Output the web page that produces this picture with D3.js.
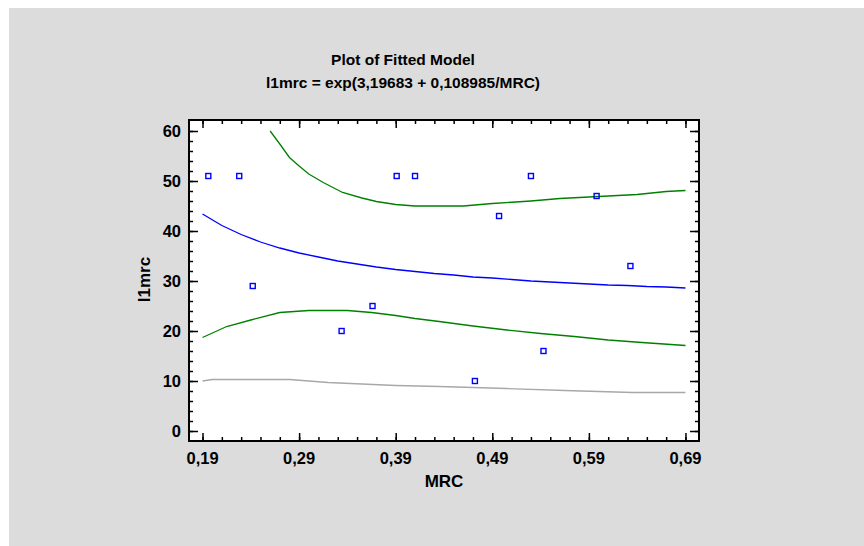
<!DOCTYPE html>
<html>
<head>
<meta charset="utf-8">
<script src="https://cdn.jsdelivr.net/npm/d3@7"></script>
<style>
  body { margin: 0; background: #ffffff; }
  svg text { font-family: "Liberation Sans", Arial, sans-serif; font-weight: bold; fill: #000; }
</style>
</head>
<body>
<div class="chart"></div>
<script>
// observed points
let obsX = [0.196, 0.228, 0.242, 0.334, 0.366, 0.391, 0.41, 0.472, 0.497, 0.53, 0.543, 0.598, 0.633];
let obsY = [51, 51, 29, 20, 25, 51, 51, 10, 43, 51, 16, 47, 33];

// fitted line (blue)
let fitX = [0.19, 0.21, 0.23, 0.25, 0.27, 0.29, 0.31, 0.33, 0.35, 0.37, 0.39, 0.41, 0.43,
            0.45, 0.47, 0.49, 0.51, 0.53, 0.55, 0.57, 0.59, 0.61, 0.63, 0.65, 0.67, 0.69];
let fitY = [43.4, 41.1, 39.3, 37.8, 36.6, 35.6, 34.8, 34.0, 33.4, 32.8, 32.3, 31.9, 31.5,
            31.2, 30.8, 30.6, 30.3, 30.0, 29.8, 29.6, 29.4, 29.2, 29.1, 28.9, 28.8, 28.6];

// upper green
let upX = [0.26, 0.27, 0.28, 0.29, 0.30, 0.315, 0.335, 0.355, 0.37, 0.39, 0.41, 0.435,
           0.46, 0.49, 0.53, 0.56, 0.60, 0.64, 0.67, 0.69];
let upY = [60.0, 57.4, 54.7, 53.0, 51.4, 49.7, 47.7, 46.6, 45.9, 45.3, 45.0, 45.0,
           45.0, 45.5, 46.0, 46.5, 46.9, 47.3, 47.9, 48.1];

// lower green
let lowX = [0.19, 0.215, 0.24, 0.27, 0.30, 0.34, 0.365, 0.39, 0.41, 0.435, 0.47, 0.505,
            0.54, 0.575, 0.61, 0.645, 0.69];
let lowY = [18.7, 20.9, 22.2, 23.7, 24.1, 24.1, 23.7, 23.1, 22.5, 21.9, 21.0, 20.2,
            19.5, 18.9, 18.2, 17.7, 17.1];

// gray line
let grayX = [0.19, 0.20, 0.28, 0.32, 0.355, 0.39, 0.435, 0.505, 0.565, 0.635, 0.69];
let grayY = [10.0, 10.3, 10.3, 9.7, 9.4, 9.1, 8.9, 8.5, 8.1, 7.7, 7.7];

let xMajor = [0.19, 0.29, 0.39, 0.49, 0.59, 0.69];
let xLabels = ["0,19", "0,29", "0,39", "0,49", "0,59", "0,69"];
let yMajor = [0, 10, 20, 30, 40, 50, 60];
let yLabels = ["0", "10", "20", "30", "40", "50", "60"];

let titleLines = ["Plot of Fitted Model", "l1mrc = exp(3,19683 + 0,108985/MRC)"];
let xTitle = "MRC";
let yTitle = "l1mrc";

let W = 864, H = 546;
let plot = {left: 189, right: 699, top: 120, bottom: 441};

let svg = d3.select(".chart").append("svg")
            .attr("width", W)
            .attr("height", H);

svg.append("rect")
   .attr("x", 9).attr("y", 8)
   .attr("width", W - 9).attr("height", H - 8)
   .attr("fill", "#dcdcdc");

let x = d3.scaleLinear().domain([0.176, 0.704]).range([plot.left, plot.right]);
let y = d3.scaleLinear().domain([-2, 62.2]).range([plot.bottom, plot.top]);

svg.append("rect")
   .attr("x", plot.left).attr("y", plot.top)
   .attr("width", plot.right - plot.left)
   .attr("height", plot.bottom - plot.top)
   .attr("fill", "#ffffff");

// ticks
let xMinor = d3.range(0, 26).map(i => 0.19 + i * 0.02);
let yMinor = d3.range(0, 31).map(i => i * 2);

function xAxis(pos, orient, ticks, len) {
    let ax = (orient === "bottom" ? d3.axisTop(x) : d3.axisBottom(x))
        .tickValues(ticks).tickSize(len).tickFormat("");
    let g = svg.append("g").attr("transform", "translate(0," + pos + ")").call(ax);
    g.select(".domain").remove();
    g.selectAll("line").attr("stroke", "#000").attr("stroke-width", 1.5);
    return g;
}
function yAxis(pos, orient, ticks, len) {
    let ax = (orient === "left" ? d3.axisRight(y) : d3.axisLeft(y))
        .tickValues(ticks).tickSize(len).tickFormat("");
    let g = svg.append("g").attr("transform", "translate(" + pos + ",0)").call(ax);
    g.select(".domain").remove();
    g.selectAll("line").attr("stroke", "#000").attr("stroke-width", 1.5);
    return g;
}
xAxis(plot.bottom, "bottom", xMinor, 4);
xAxis(plot.bottom, "bottom", xMajor, 8);
xAxis(plot.top, "top", xMinor, 4);
xAxis(plot.top, "top", xMajor, 8);
yAxis(plot.left, "left", yMinor, 4);
yAxis(plot.left, "left", yMajor, 9);
yAxis(plot.right, "right", yMinor, 4);
yAxis(plot.right, "right", yMajor, 9);

// tick labels
svg.append("g").selectAll("text")
   .data(xMajor).enter().append("text")
   .attr("x", d => x(d))
   .attr("y", 464)
   .attr("text-anchor", "middle")
   .style("font-size", "16.5px")
   .text((d, i) => xLabels[i]);

svg.append("g").selectAll("text")
   .data(yMajor).enter().append("text")
   .attr("x", plot.left - 8)
   .attr("y", d => y(d) + 6)
   .attr("text-anchor", "end")
   .style("font-size", "16.5px")
   .text((d, i) => yLabels[i]);

// clipped series
svg.append("clipPath").attr("id", "clip")
   .append("rect")
   .attr("x", plot.left).attr("y", plot.top)
   .attr("width", plot.right - plot.left)
   .attr("height", plot.bottom - plot.top);

let area = svg.append("g").attr("clip-path", "url(#clip)");

let line = d3.line().x(d => x(d[0])).y(d => y(d[1]));

function drawLine(xs, ys, color) {
    area.append("path")
        .datum(xs.map((v, i) => [v, ys[i]]))
        .attr("d", line)
        .attr("fill", "none")
        .attr("stroke", color)
        .attr("stroke-width", 1.3);
}
drawLine(grayX, grayY, "#a8a8a8");
drawLine(lowX, lowY, "#008000");
drawLine(upX, upY, "#008000");
drawLine(fitX, fitY, "#0000ff");

area.selectAll(".pt")
    .data(obsX.map((v, i) => [v, obsY[i]]))
    .enter().append("rect")
    .attr("class", "pt")
    .attr("x", d => x(d[0]) - 2.5)
    .attr("y", d => y(d[1]) - 2.5)
    .attr("width", 5).attr("height", 5)
    .attr("fill", "none")
    .attr("stroke", "#0000ff")
    .attr("stroke-width", 1.4);

// frame
svg.append("rect")
   .attr("x", plot.left).attr("y", plot.top)
   .attr("width", plot.right - plot.left)
   .attr("height", plot.bottom - plot.top)
   .attr("fill", "none")
   .attr("stroke", "#000")
   .attr("stroke-width", 2);

// titles
svg.append("g").selectAll("text")
   .data(titleLines).enter().append("text")
   .attr("x", 403)
   .attr("y", (d, i) => 65 + i * 23)
   .attr("text-anchor", "middle")
   .style("font-size", "15.5px")
   .text(d => d);

svg.append("text")
   .attr("x", (plot.left + plot.right) / 2)
   .attr("y", 487)
   .attr("text-anchor", "middle")
   .style("font-size", "17px")
   .text(xTitle);

svg.append("text")
   .attr("transform", "translate(150," + ((plot.top + plot.bottom) / 2 - 1) + ") rotate(-90)")
   .attr("text-anchor", "middle")
   .style("font-size", "17px")
   .text(yTitle);
</script>
</body>
</html>
